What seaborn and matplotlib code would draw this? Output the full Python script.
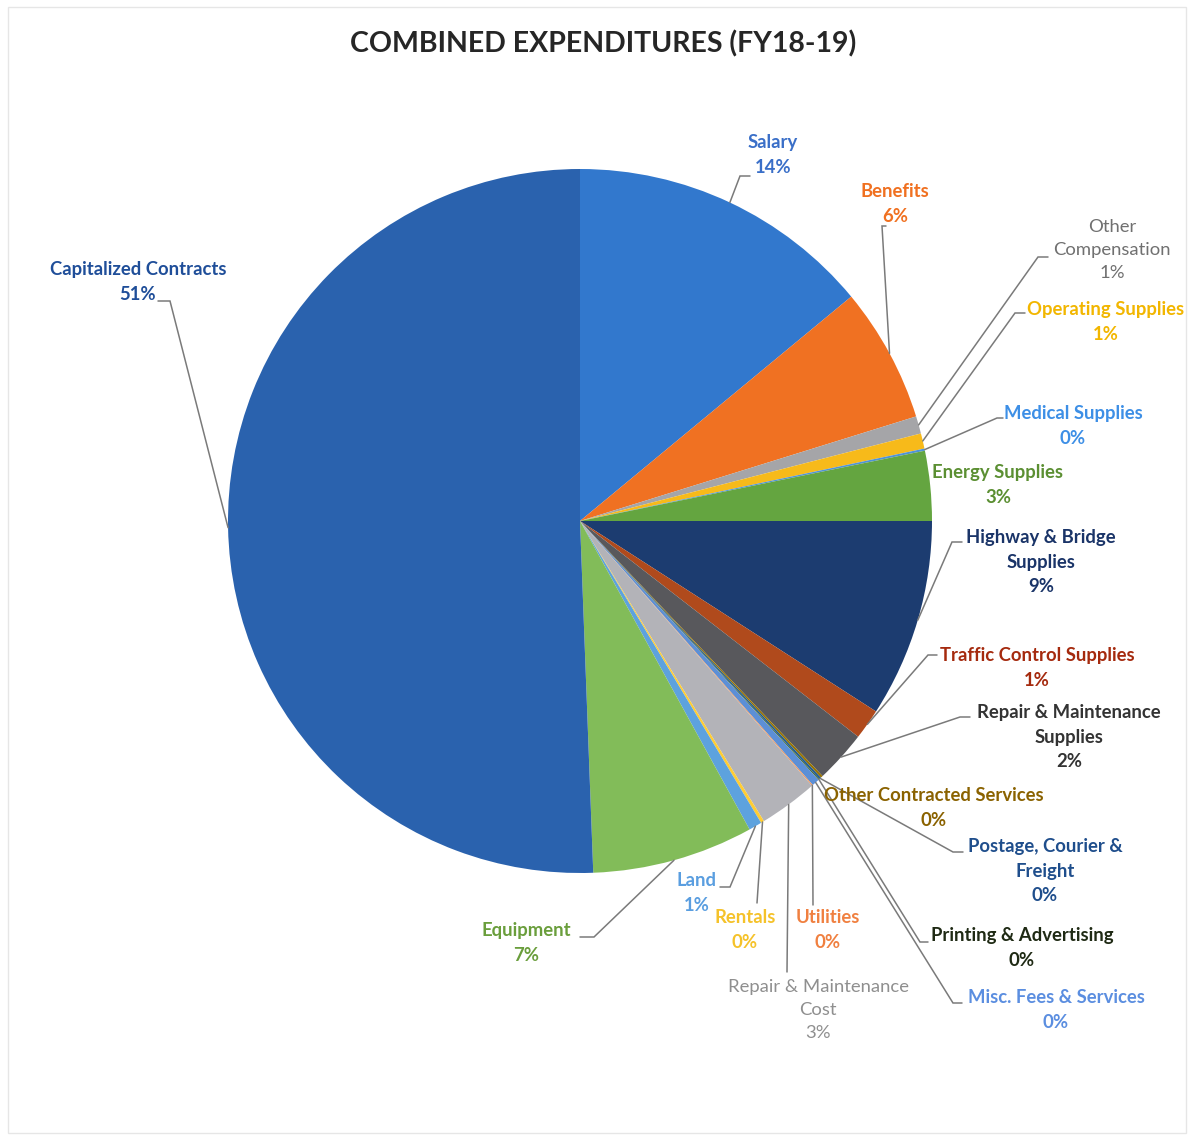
import matplotlib
matplotlib.use("Agg")
import matplotlib.pyplot as plt
import seaborn as sns
import numpy as np

# %% data (share of combined expenditures, %)
categories = ['Salary', 'Benefits', 'Other\nCompensation', 'Operating Supplies',
              'Medical Supplies', 'Energy Supplies', 'Highway & Bridge\nSupplies',
              'Traffic Control Supplies', 'Repair & Maintenance\nSupplies',
              'Other Contracted Services', 'Postage, Courier &\nFreight',
              'Printing & Advertising', 'Misc. Fees & Services', 'Utilities',
              'Repair & Maintenance\nCost', 'Rentals', 'Land', 'Equipment',
              'Capitalized Contracts']
values = [14.0, 6.2, 0.8, 0.7, 0.1, 3.2, 9.1, 1.4, 2.4, 0.1, 0.1, 0.05,
          0.35, 0.05, 2.7, 0.15, 0.6, 7.4, 50.6]

slice_colors = ['#3278CD', '#F07122', '#A5A5A8', '#F7BA1A', '#4F93D6', '#64A540',
                '#1C3C70', '#B04A1C', '#58585C', '#997300', '#255E91', '#43682B',
                '#5C8FD6', '#F1975A', '#B3B3B8', '#FFCD33', '#5DA2DE', '#82BC59',
                '#2A62AE']
text_colors = ['#3A6FC8', '#F07020', '#707070', '#F2B600', '#3D8FE6', '#5B8F32',
               '#1A3468', '#A52A0E', '#333333', '#8A6200', '#1F4E8C', '#1F2A14',
               '#5B8EE0', '#F08040', '#8F8F8F', '#F5C22A', '#5A9EE0', '#6A9E3C',
               '#1F4E99']

# label layout in picture pixels: text centre, leader elbow, leader end
H = 1138
text_pos = [(773, 155), (895, 204), (1112, 250), (1106, 322), (1073, 426),
            (998, 485), (1041, 562), (1037, 668), (1069, 737), (934, 808),
            (1045, 871), (1022, 948), (1056, 1010), (828, 930), (818, 1010),
            (745, 930), (697, 893), (526, 943), (138, 282)]
leaders = [((740, 176), (750, 176)), ((882, 226), (886, 226)),
           ((1038, 257), (1048, 257)), ((1015, 313), (1025, 313)),
           ((997, 418), (1003, 418)), None,
           ((952, 542), (962, 542)), ((928, 655), (937, 655)),
           ((960, 717), (970, 717)), None,
           ((953, 852), (963, 852)), ((920, 942), (928, 942)),
           ((953, 1003), (962, 1003)), ((813, 905), (813, 905)),
           ((787, 972), (787, 972)), ((757, 903), (757, 903)),
           ((730, 887), (720, 887)), ((594, 937), (580, 937)),
           ((170, 301), (158, 301))]
light_labels = ['Other\nCompensation', 'Repair & Maintenance\nCost']

sns.set_theme(style='white')
plt.rcParams['font.family'] = ['Lato', 'DejaVu Sans']

fig = plt.figure(figsize=(11.9, 11.38), dpi=100)
ax = fig.add_axes([0, 0, 1, 1])

cx, cy, r = 580, H - 521, 352
wedges, _ = ax.pie(values, colors=sns.color_palette(slice_colors), startangle=90,
                   counterclock=False, center=(cx, cy), radius=r,
                   wedgeprops=dict(linewidth=0))
total = sum(values)

for w, name, val, tc, pos, ld in zip(wedges, categories, values, text_colors,
                                     text_pos, leaders):
    label = f"{name}\n{round(val / total * 100):.0f}%"
    ax.text(pos[0], H - pos[1], label, ha='center', va='center', color=tc,
            fontsize=13.3, linespacing=1.55,
            fontweight='normal' if name in light_labels else 'bold')
    if ld is None:
        continue
    ang = np.deg2rad((w.theta1 + w.theta2) / 2)
    ex, ey = cx + r * np.cos(ang), cy + r * np.sin(ang)
    (bx, by), (tx, ty) = ld
    ax.plot([ex, bx, tx], [ey, H - by, H - ty], color='#7A7A7A', lw=1.1,
            solid_joinstyle='miter')

ax.text(603, H - 44, 'COMBINED EXPENDITURES (FY18-19)', ha='center', va='center',
        fontsize=20.5, fontweight='bold', color='#262626')

ax.set_xlim(0, 1190)
ax.set_ylim(0, H)
ax.set_aspect('equal')
ax.axis('off')
fig.patches.append(plt.Rectangle((0.007, 0.004), 0.99, 0.99, transform=fig.transFigure,
                                 fill=False, edgecolor='#E6E6E6', lw=1))

plt.savefig('out.png', dpi=100)
